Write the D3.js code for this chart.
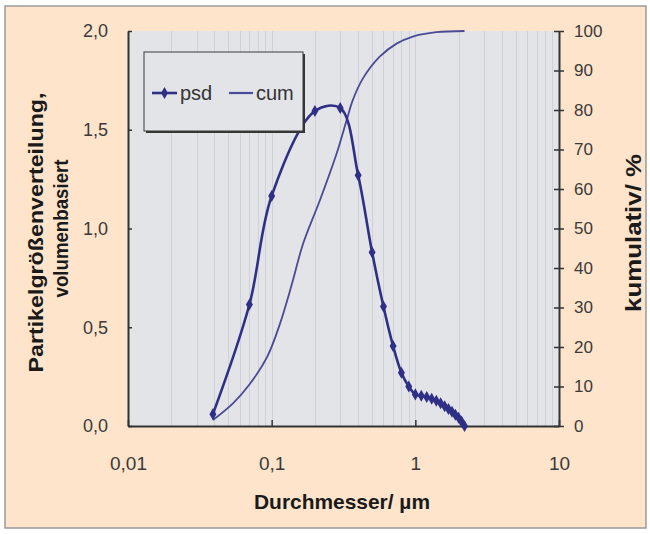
<!DOCTYPE html>
<html><head><meta charset="utf-8">
<script src="https://cdn.jsdelivr.net/npm/d3@7"></script>
<style>
html,body{margin:0;padding:0;background:#fff;}
text{font-family:"Liberation Sans",Arial,sans-serif;}
</style></head>
<body>
<svg id="chart" width="650" height="534"></svg>
<script>
// ---- data ----
const psdDiameter = [0.039, 0.07, 0.1, 0.2, 0.3, 0.4, 0.5, 0.6, 0.7, 0.8, 0.9, 1.0, 1.1, 1.2, 1.3, 1.4, 1.5, 1.6, 1.7, 1.8, 1.9, 2.0, 2.1, 2.2];
const psdValue    = [0.06, 0.615, 1.165, 1.595, 1.61, 1.27, 0.88, 0.605, 0.405, 0.27, 0.2, 0.16, 0.153, 0.147, 0.138, 0.128, 0.115, 0.1, 0.086, 0.072, 0.057, 0.042, 0.022, 0.0];
const cumDiameter = [0.039, 0.054, 0.07, 0.093, 0.114, 0.138, 0.165, 0.217, 0.284, 0.333, 0.367, 0.432, 0.565, 0.74, 0.96, 1.4, 2.2];
const cumValue    = [1.5, 5.8, 10.5, 17.5, 25.8, 35.8, 46, 57.2, 69.1, 77.5, 82.5, 88, 93.5, 96.8, 98.6, 99.7, 100];
const xTickValues = [0.01, 0.1, 1, 10];
const xTickLabels = ["0,01", "0,1", "1", "10"];
const yLeftTicks  = [0, 0.5, 1.0, 1.5, 2.0];
const yRightTicks = [0, 10, 20, 30, 40, 50, 60, 70, 80, 90, 100];
const seriesNames = ["psd", "cum"];
const xTitle = "Durchmesser/ µm";
const yLeftTitle = ["Partikelgrößenverteilung,", "volumenbasiert"];
const yRightTitle = "kumulativ/ %";

// ---- layout ----
const W = 650, H = 534;
const L = 128, R = 559, T = 31, B = 426;
const lineColor = "#2f2f86";
const svg = d3.select("#chart");

svg.append("rect").attr("x", 0).attr("y", 0).attr("width", W).attr("height", H).attr("fill", "#ffffff");
svg.append("rect").attr("x", 5).attr("y", 6).attr("width", 641).attr("height", 522)
  .attr("fill", "#fde4cb").attr("stroke", "#9a9a9a").attr("stroke-width", 1.5);

const x = d3.scaleLog().domain([0.01, 10]).range([L, R]);
const yL = d3.scaleLinear().domain([0, 2]).range([B, T]);
const yR = d3.scaleLinear().domain([0, 100]).range([B, T]);

// plot area
svg.append("rect").attr("x", L).attr("y", T).attr("width", R - L).attr("height", B - T).attr("fill", "#e3e4e8");

// vertical grid lines (log minor)
const gridVals = [];
for (let e = -2; e <= 0; e++) for (let k = 1; k <= 9; k++) { const v = k * Math.pow(10, e); if (v > 0.01) gridVals.push(v); }
svg.append("g").selectAll("line").data(gridVals).join("line")
  .attr("x1", d => Math.round(x(d)) + 0.5).attr("x2", d => Math.round(x(d)) + 0.5)
  .attr("y1", T).attr("y2", B).attr("stroke", "#d0d1d6").attr("stroke-width", 1);

// axes
const axisColor = "#333";
const gx = svg.append("g").attr("transform", `translate(0,${B})`)
  .call(d3.axisBottom(x).tickValues(xTickValues).tickFormat((d, i) => xTickLabels[i]).tickSizeInner(-6).tickSizeOuter(0).tickPadding(31));
const gl = svg.append("g").attr("transform", `translate(${L},0)`)
  .call(d3.axisLeft(yL).tickValues(yLeftTicks).tickFormat(d => d3.format(".1f")(d).replace(".", ",")).tickSizeInner(4).tickSizeOuter(0).tickPadding(16));
const gr = svg.append("g").attr("transform", `translate(${R},0)`)
  .call(d3.axisRight(yR).tickValues(yRightTicks).tickSizeInner(5).tickSizeOuter(0).tickPadding(10));
gr.selectAll(".tick line").attr("x1", -5);
gl.selectAll(".tick line").attr("x2", 4);
[gx, gl, gr].forEach(g => {
  g.select(".domain").attr("stroke", axisColor).attr("stroke-width", 2);
  g.selectAll(".tick line").attr("stroke", axisColor).attr("stroke-width", 1.5);
  g.selectAll(".tick text").attr("fill", "#3a3a3a").style("font-size", "17px").style("font-family", "'Liberation Sans',Arial,sans-serif");
});
gx.selectAll(".tick text").style("font-size", "19px");
gl.selectAll(".tick text").style("font-size", "18px");

// series
const psd = psdDiameter.map((d, i) => [d, psdValue[i]]);
const cum = cumDiameter.map((d, i) => [d, cumValue[i]]);
const clipId = "clip";
svg.append("clipPath").attr("id", clipId).append("rect").attr("x", L).attr("y", T - 2).attr("width", R - L).attr("height", B - T + 4);

svg.append("path").datum(cum)
  .attr("d", d3.line().x(d => x(d[0])).y(d => yR(d[1])).curve(d3.curveCatmullRom.alpha(0.5)))
  .attr("fill", "none").attr("stroke", "#4a4a96").attr("stroke-width", 1.8).attr("clip-path", `url(#${clipId})`);

svg.append("path").datum(psd)
  .attr("d", d3.line().x(d => x(d[0])).y(d => yL(d[1])).curve(d3.curveCatmullRom.alpha(0.5)))
  .attr("fill", "none").attr("stroke", lineColor).attr("stroke-width", 2.6);

const diamond = d3.symbol().type(d3.symbolDiamond).size(42);
svg.append("g").selectAll("path").data(psd).join("path")
  .attr("transform", d => `translate(${x(d[0])},${yL(d[1])})`)
  .attr("d", diamond).attr("fill", lineColor);

// legend
const lg = svg.append("g");
lg.append("rect").attr("x", 146).attr("y", 54).attr("width", 159).attr("height", 79).attr("fill", "#333");
lg.append("rect").attr("x", 144).attr("y", 52).attr("width", 159).attr("height", 79).attr("fill", "#e3e4e8").attr("stroke", "#3a3a3a").attr("stroke-width", 1);
lg.append("line").attr("x1", 152).attr("x2", 177).attr("y1", 93).attr("y2", 93).attr("stroke", lineColor).attr("stroke-width", 2.6);
lg.append("path").attr("transform", "translate(164.5,93)").attr("d", diamond).attr("fill", lineColor);
lg.append("text").attr("x", 180).attr("y", 100).text(seriesNames[0]).style("font-size", "20px").attr("fill", "#333");
lg.append("line").attr("x1", 229).attr("x2", 253).attr("y1", 93).attr("y2", 93).attr("stroke", "#4a4a96").attr("stroke-width", 2.2);
lg.append("text").attr("x", 256).attr("y", 100).text(seriesNames[1]).style("font-size", "20px").attr("fill", "#333");

// titles
svg.append("text").attr("x", 342).attr("y", 509).attr("text-anchor", "middle")
  .attr("textLength", 176).attr("lengthAdjust", "spacingAndGlyphs")
  .style("font-size", "21px").style("font-weight", "bold").attr("fill", "#1a1a1a").text(xTitle);
svg.append("text").attr("transform", `translate(43,${(T + B) / 2 + 4}) rotate(-90)`)
  .attr("text-anchor", "middle").style("font-weight", "bold").style("font-size", "20px").attr("fill", "#1a1a1a")
  .attr("textLength", 280).attr("lengthAdjust", "spacingAndGlyphs").text(yLeftTitle[0]);
svg.append("text").attr("transform", `translate(68,${(T + B) / 2}) rotate(-90)`)
  .attr("text-anchor", "middle").style("font-weight", "bold").style("font-size", "20px").attr("fill", "#1a1a1a")
  .attr("textLength", 138).attr("lengthAdjust", "spacingAndGlyphs").text(yLeftTitle[1]);
svg.append("text").attr("transform", `translate(641,233) rotate(-90)`)
  .attr("text-anchor", "middle").attr("textLength", 158).attr("lengthAdjust", "spacingAndGlyphs")
  .style("font-size", "22px").style("font-weight", "bold").attr("fill", "#1a1a1a").text(yRightTitle);
</script>
</body></html>
